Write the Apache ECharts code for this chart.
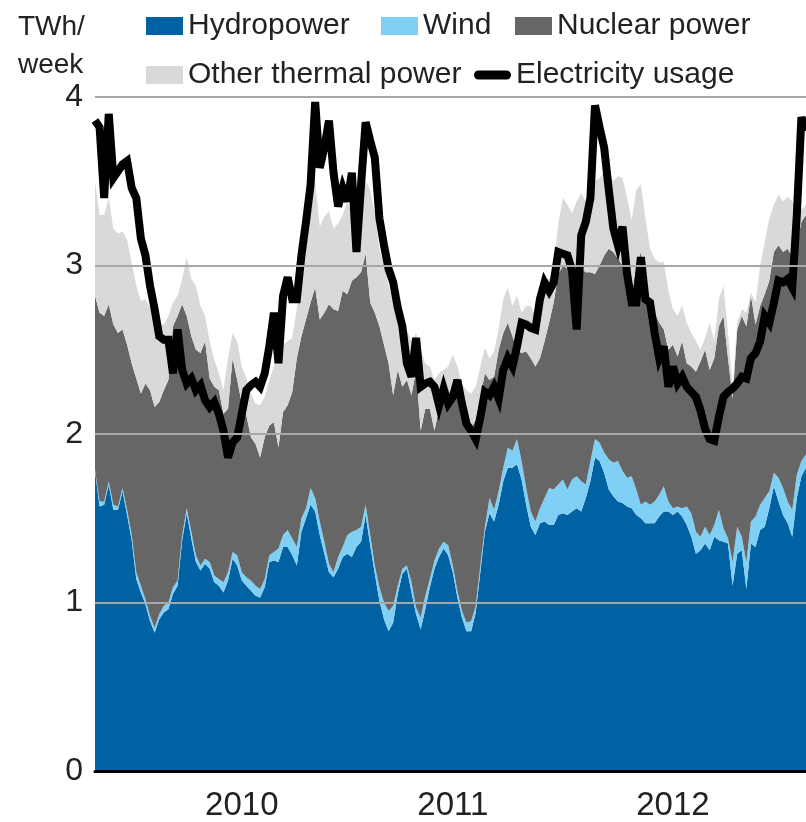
<!DOCTYPE html>
<html>
<head>
<meta charset="utf-8">
<script src="https://cdn.jsdelivr.net/npm/echarts@6/dist/echarts.min.js"></script>
<style>
  html, body { margin: 0; padding: 0; background: #ffffff; }
  #chart { width: 806px; height: 822px; }
</style>
</head>
<body>
<div id="chart"></div>
<script>
// Weekly Swedish electricity balance, 2010-2012 (TWh per week)
const years = [2010, 2011, 2012];
const weeks = years.flatMap(y =>
  Array.from({ length: 52 }, (_, k) => y + '-W' + String(k + 1).padStart(2, '0')));

// weeks whose axis label carries the year
const yearLabelWeeks = [32, 78, 126];
const yTicks = [0, 1, 2, 3, 4];

const hydropower = [
  1.78,1.57,1.58,1.70,1.55,1.55,1.66,1.52,1.37,1.14,
  1.06,0.99,0.89,0.82,0.90,0.94,0.96,1.05,1.10,1.37,
  1.53,1.38,1.24,1.19,1.23,1.20,1.12,1.10,1.06,1.13,
  1.26,1.22,1.13,1.10,1.07,1.04,1.03,1.09,1.24,1.25,
  1.24,1.33,1.33,1.28,1.22,1.42,1.50,1.58,1.54,1.40,
  1.29,1.18,1.15,1.20,1.27,1.29,1.27,1.33,1.36,1.52,
  1.34,1.17,1.01,0.90,0.83,0.88,1.05,1.17,1.20,1.06,
  0.93,0.84,0.96,1.09,1.20,1.27,1.32,1.28,1.18,1.03,
  0.91,0.83,0.83,0.94,1.18,1.42,1.53,1.48,1.58,1.72,
  1.80,1.80,1.82,1.73,1.58,1.45,1.40,1.47,1.48,1.46,
  1.46,1.52,1.53,1.52,1.54,1.56,1.54,1.62,1.72,1.86,
  1.84,1.77,1.67,1.63,1.60,1.59,1.57,1.56,1.52,1.50,
  1.47,1.47,1.47,1.51,1.54,1.54,1.52,1.54,1.51,1.46,
  1.39,1.29,1.31,1.35,1.31,1.39,1.37,1.36,1.35,1.10,
  1.29,1.31,1.08,1.35,1.33,1.43,1.45,1.56,1.69,1.60,
  1.52,1.47,1.39,1.62,1.75,1.80
];

const wind = [
  0.01,0.03,0.02,0.02,0.03,0.02,0.02,0.03,0.03,0.04,
  0.04,0.03,0.03,0.03,0.03,0.04,0.04,0.04,0.03,0.03,
  0.03,0.04,0.04,0.03,0.03,0.04,0.04,0.04,0.06,0.05,
  0.04,0.06,0.05,0.05,0.06,0.06,0.05,0.05,0.04,0.05,
  0.08,0.07,0.10,0.10,0.11,0.08,0.06,0.10,0.08,0.08,
  0.07,0.05,0.03,0.07,0.06,0.11,0.15,0.10,0.09,0.06,
  0.06,0.05,0.08,0.10,0.12,0.10,0.05,0.03,0.02,0.06,
  0.04,0.07,0.08,0.05,0.05,0.05,0.04,0.06,0.04,0.04,
  0.04,0.05,0.06,0.04,0.04,0.03,0.09,0.07,0.08,0.08,
  0.12,0.10,0.15,0.11,0.10,0.09,0.08,0.09,0.14,0.22,
  0.21,0.18,0.20,0.15,0.19,0.19,0.18,0.08,0.12,0.11,
  0.11,0.12,0.18,0.20,0.24,0.19,0.17,0.19,0.15,0.08,
  0.13,0.11,0.13,0.13,0.15,0.06,0.04,0.03,0.05,0.11,
  0.14,0.13,0.08,0.10,0.09,0.07,0.18,0.08,0.03,0.14,
  0.16,0.08,0.16,0.13,0.18,0.15,0.17,0.10,0.08,0.14,
  0.16,0.13,0.16,0.14,0.09,0.08
];

const nuclear = [
  1.03,1.12,1.10,1.05,1.07,1.03,0.94,0.98,1.02,1.15,
  1.14,1.28,1.34,1.31,1.26,1.28,1.32,1.55,1.57,1.37,
  1.14,1.16,1.22,1.26,1.29,1.09,1.12,1.12,1.00,0.97,
  1.15,1.04,1.00,0.96,0.85,0.84,0.78,0.84,0.77,0.77,
  0.60,0.73,0.74,0.87,1.12,1.08,1.12,1.10,1.25,1.20,
  1.36,1.54,1.56,1.46,1.52,1.43,1.49,1.50,1.51,1.49,
  1.38,1.50,1.55,1.53,1.47,1.25,1.28,1.08,1.10,1.11,
  1.41,1.11,1.11,1.01,0.77,0.83,0.86,0.90,1.04,1.27,
  1.20,1.19,1.15,1.10,1.00,0.91,0.70,0.79,0.84,0.80,
  0.74,0.68,0.53,0.64,0.81,0.91,0.92,0.89,0.93,0.98,
  1.11,1.25,1.27,1.31,1.24,1.22,1.26,1.26,1.12,0.98,
  1.05,1.17,1.25,1.25,1.20,1.22,1.14,1.08,1.33,1.50,
  1.22,1.20,1.12,1.02,0.93,0.90,0.97,0.89,0.99,0.85,
  0.87,0.95,1.04,1.05,0.98,0.99,1.09,1.26,1.07,0.97,
  1.17,1.31,1.40,1.34,1.14,1.18,1.21,1.25,1.31,1.38,
  1.40,1.50,1.50,1.36,1.42,1.42
];

const otherThermal = [
  0.68,0.58,0.60,0.63,0.57,0.59,0.58,0.62,0.60,0.55,
  0.55,0.50,0.49,0.54,0.46,0.39,0.38,0.14,0.12,0.15,
  0.35,0.34,0.38,0.28,0.15,0.22,0.16,0.10,0.14,0.30,
  0.15,0.23,0.22,0.22,0.26,0.24,0.31,0.24,0.27,0.33,
  0.56,0.40,0.38,0.32,0.30,0.37,0.42,0.52,0.63,0.55,
  0.57,0.55,0.48,0.52,0.45,0.55,0.40,0.15,0.44,0.43,
  0.67,0.58,0.46,0.47,0.46,0.55,0.32,0.34,0.30,0.32,
  0.22,0.48,0.27,0.25,0.30,0.21,0.16,0.16,0.21,0.06,
  0.15,0.19,0.20,0.20,0.18,0.15,0.13,0.15,0.12,0.20,
  0.21,0.18,0.32,0.24,0.27,0.31,0.30,0.33,0.37,0.26,
  0.22,0.30,0.40,0.38,0.34,0.41,0.45,0.42,0.44,0.55,
  0.52,0.49,0.47,0.42,0.49,0.52,0.52,0.44,0.45,0.40,
  0.46,0.32,0.32,0.36,0.40,0.35,0.21,0.24,0.21,0.24,
  0.20,0.18,0.07,0.07,0.28,0.10,0.16,0.18,0.15,0.07,
  0.04,0.04,0.08,0.02,0.13,0.24,0.31,0.37,0.28,0.30,
  0.30,0.31,0.33,0.20,0.07,0.06
];

const electricityUsage = [
  3.86,3.82,3.40,3.90,3.52,3.56,3.60,3.62,3.46,3.40,
  3.16,3.06,2.88,2.74,2.58,2.56,2.56,2.36,2.62,2.38,
  2.30,2.33,2.26,2.29,2.20,2.16,2.19,2.12,2.02,1.86,
  1.95,1.98,2.12,2.26,2.29,2.31,2.28,2.36,2.52,2.72,
  2.42,2.82,2.93,2.80,2.80,3.06,3.26,3.48,3.97,3.58,
  3.70,3.86,3.55,3.35,3.46,3.38,3.55,3.08,3.48,3.85,
  3.74,3.64,3.28,3.12,2.98,2.90,2.75,2.64,2.42,2.34,
  2.57,2.28,2.30,2.31,2.28,2.17,2.27,2.18,2.22,2.32,
  2.18,2.06,2.02,1.97,2.10,2.25,2.23,2.28,2.21,2.38,
  2.45,2.40,2.52,2.66,2.65,2.63,2.62,2.80,2.90,2.85,
  2.90,3.08,3.07,3.06,2.97,2.62,3.18,3.26,3.40,3.95,
  3.82,3.70,3.45,3.22,3.12,3.23,2.95,2.78,2.78,3.05,
  2.80,2.78,2.60,2.45,2.52,2.28,2.40,2.30,2.34,2.28,
  2.25,2.22,2.14,2.03,1.97,1.96,2.10,2.22,2.25,2.27,
  2.30,2.34,2.33,2.45,2.48,2.55,2.70,2.66,2.78,2.91,
  2.90,2.92,2.87,3.30,3.88,3.80
];

const FONT = '"Liberation Sans", Arial, sans-serif';
const TEXT = '#222222';
const USAGE_ICON =
  'path://M0,0M37,18M4.5,4.5L32.5,4.5A4.5,4.5,0,0,1,32.5,13.5L4.5,13.5A4.5,4.5,0,0,1,4.5,4.5Z';

function areaSeries(name, data, color) {
  return {
    name, type: 'line', stack: 'supply', data,
    symbol: 'none', smooth: false,
    lineStyle: { width: 0 },
    itemStyle: { color },
    areaStyle: { color, opacity: 1 },
    emphasis: { disabled: true },
    z: 2
  };
}

// one legend block per entry so each key sits at its own spot
function legendItem(name, left, top, icon) {
  return {
    left, top, padding: 0, itemWidth: 37, itemHeight: 18,
    selectedMode: false,
    textStyle: { fontSize: 30, fontFamily: FONT, color: TEXT },
    data: [{ name, icon }]
  };
}

const chart = echarts.init(document.getElementById('chart'), null, { renderer: 'canvas' });

chart.setOption({
  animation: false,
  backgroundColor: '#ffffff',
  grid: { left: 95, right: 0, top: 97, bottom: 49, containLabel: false },
  graphic: [{
    type: 'text', left: 18, top: 8, z: 20,
    style: { text: 'TWh/\nweek', font: '28px ' + FONT, lineHeight: 38, fill: TEXT }
  }],
  legend: [
    legendItem('Hydropower', 146, 11, 'rect'),
    legendItem('Wind', 381, 11, 'rect'),
    legendItem('Nuclear power', 515, 11, 'rect'),
    legendItem('Other thermal power', 146, 60, 'rect'),
    legendItem('Electricity usage', 474, 60, USAGE_ICON)
  ],
  xAxis: {
    type: 'category', data: weeks, boundaryGap: false, z: 12,
    axisLine: { show: true, lineStyle: { color: '#000000', width: 3 } },
    axisTick: { show: false },
    splitLine: { show: false },
    axisLabel: {
      interval: (idx) => yearLabelWeeks.includes(idx),
      formatter: (v) => v.slice(0, 4),
      fontSize: 33, fontFamily: FONT, color: TEXT, margin: 18
    }
  },
  yAxis: {
    type: 'value', min: yTicks[0], max: yTicks[yTicks.length - 1], interval: 1, z: 10,
    axisLine: { show: false },
    axisTick: { show: false },
    splitLine: { lineStyle: { color: '#a8a8a8', width: 2 } },
    axisLabel: { fontSize: 32, fontFamily: FONT, color: TEXT, margin: 12 }
  },
  series: [
    areaSeries('Hydropower', hydropower, '#0062a2'),
    areaSeries('Wind', wind, '#80cff4'),
    areaSeries('Nuclear power', nuclear, '#666666'),
    areaSeries('Other thermal power', otherThermal, '#d9d9d9'),
    {
      name: 'Electricity usage', type: 'line', data: electricityUsage,
      symbol: 'none', smooth: false, z: 5,
      itemStyle: { color: '#000000' },
      lineStyle: { color: '#000000', width: 8, join: 'miter', miterLimit: 4 },
      emphasis: { disabled: true }
    }
  ]
});
</script>
</body>
</html>
